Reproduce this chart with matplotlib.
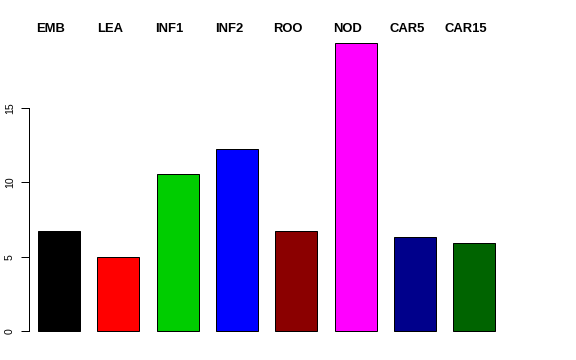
import matplotlib
matplotlib.use("Agg")
import matplotlib.pyplot as plt
import numpy as np

categories = ["EMB", "LEA", "INF1", "INF2", "ROO", "NOD", "CAR5", "CAR15"]
values = [6.72, 5.0, 10.54, 12.24, 6.70, 19.37, 6.34, 5.92]
colors = ["#000000", "#FF0000", "#00CD00", "#0000FF", "#8B0000", "#FF00FF", "#00008B", "#006400"]
yticks = [0, 5, 10, 15]

W, H = 576, 360
fig = plt.figure(figsize=(W / 72, H / 72), dpi=72)
left_px, right_px, top_px, bottom_px = 29, 512, 31.4, 342.5
ax = fig.add_axes([left_px / W, 1 - bottom_px / H, (right_px - left_px) / W, (bottom_px - top_px) / H])

pitch = 59.3  # px per bar slot
x = np.arange(len(categories))
ax.bar(x, values, width=42 / pitch, color=colors, edgecolor="black", linewidth=1.0)
ax.set_xlim((left_px - 59) / pitch, (right_px - 59) / pitch)
ax.set_ylim(-0.775, 20.145)

for s in ["top", "right", "bottom"]:
    ax.spines[s].set_visible(False)
ax.spines["left"].set_bounds(0, 15)
ax.spines["left"].set_linewidth(1.0)
ax.set_xticks([])
ax.set_yticks(yticks)
ax.set_yticklabels([str(t) for t in yticks], rotation=90, va="center",
                   fontsize=10.5, family="Liberation Sans")
ax.tick_params(axis="y", length=8, width=1.0, pad=6)

for xi, name in zip(x, categories):
    ax.text(xi - 8 / pitch, 1 - (29.5 - top_px) / (bottom_px - top_px), name,
            transform=ax.get_xaxis_transform(), ha="center", va="center",
            fontsize=13, fontweight="bold", family="Liberation Sans", clip_on=False)

fig.savefig("out.png", dpi=72)
